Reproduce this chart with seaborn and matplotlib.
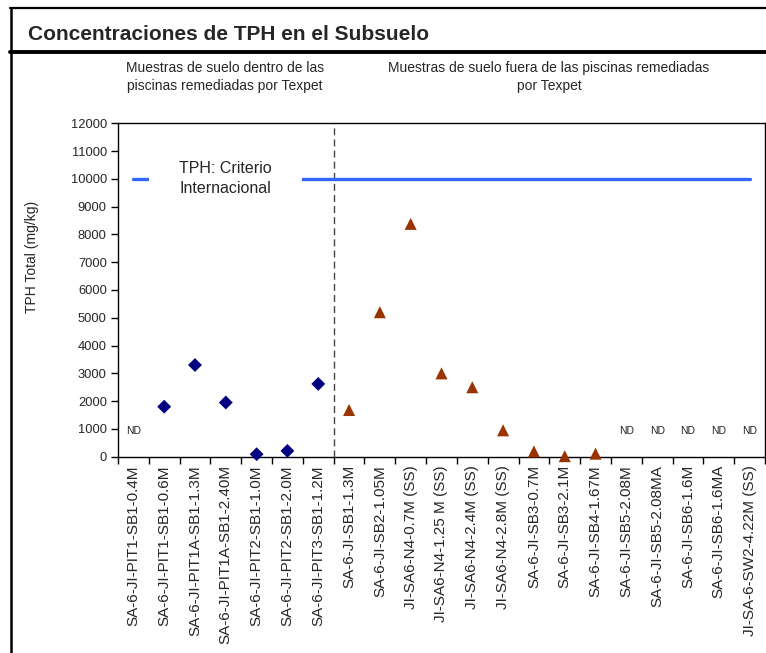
import numpy as np
import matplotlib
matplotlib.use("Agg")
import matplotlib.pyplot as plt
from matplotlib.lines import Line2D
import seaborn as sns

TITLE = "Concentraciones de TPH en el Subsuelo"
Y_LABEL = "TPH Total (mg/kg)"
NOTE_INSIDE = "Muestras de suelo dentro de las\npiscinas remediadas por Texpet"
NOTE_OUTSIDE = "Muestras de suelo fuera de las piscinas remediadas\npor Texpet"
CRITERION_LABEL = "TPH: Criterio\nInternacional"

inside_labels = [
    "SA-6-JI-PIT1-SB1-0.4M",
    "SA-6-JI-PIT1-SB1-0.6M",
    "SA-6-JI-PIT1A-SB1-1.3M",
    "SA-6-JI-PIT1A-SB1-2.40M",
    "SA-6-JI-PIT2-SB1-1.0M",
    "SA-6-JI-PIT2-SB1-2.0M",
    "SA-6-JI-PIT3-SB1-1.2M",
]
outside_labels = [
    "SA-6-JI-SB1-1.3M",
    "SA-6-JI-SB2-1.05M",
    "JI-SA6-N4-0.7M (SS)",
    "JI-SA6-N4-1.25 M (SS)",
    "JI-SA6-N4-2.4M (SS)",
    "JI-SA6-N4-2.8M (SS)",
    "SA-6-JI-SB3-0.7M",
    "SA-6-JI-SB3-2.1M",
    "SA-6-JI-SB4-1.67M",
    "SA-6-JI-SB5-2.08M",
    "SA-6-JI-SB5-2.08MA",
    "SA-6-JI-SB6-1.6M",
    "SA-6-JI-SB6-1.6MA",
    "JI-SA-6-SW2-4.22M (SS)",
]

# NaN = ND (no detectado)
inside_tph = [np.nan, 1800, 3300, 1950, 90, 210, 2620]
outside_tph = [1680, 5200, 8380, 3000, 2500, 950, 190, 20, 110,
               np.nan, np.nan, np.nan, np.nan, np.nan]
criterion_tph = 10000

y_ticks = list(range(0, 12001, 1000))

# ----------------------------------------------------------------------
labels = inside_labels + outside_labels
n_in = len(inside_labels)
x_in = np.arange(n_in)
x_out = np.arange(n_in, len(labels))
x_all = np.arange(len(labels))

sns.set_style("ticks")
plt.rcParams["font.family"] = ["Liberation Sans", "DejaVu Sans"]

fig = plt.figure(figsize=(7.66, 6.53), dpi=100)
ax = fig.add_axes([0.154, 0.3006, 0.8447, 0.5106])

sns.lineplot(x=x_all, y=[criterion_tph] * len(labels), ax=ax,
             color="#3366FF", linewidth=2.4, zorder=2)
sns.scatterplot(x=x_in, y=inside_tph, ax=ax, marker="D", s=50,
                color="#000080", edgecolor="none", zorder=3)
sns.scatterplot(x=x_out, y=outside_tph, ax=ax, marker="^", s=75,
                color="#993300", edgecolor="none", zorder=3)
# markers near zero sit over the axis line, as in the original
for coll in ax.collections:
    coll.set_clip_on(False)

# ND labels where nothing was detected
for x, v in zip(x_all, inside_tph + outside_tph):
    if np.isnan(v):
        ax.text(x, 930, "ND", ha="center", va="center", fontsize=7.5,
                color="#222222")

ax.text(3.0, criterion_tph, CRITERION_LABEL, ha="center", va="center",
        fontsize=11.5, linespacing=1.4, zorder=4,
        bbox=dict(boxstyle="square,pad=1.9", fc="white", ec="none"))

ax.axvline(n_in - 0.5, color="#444444", linewidth=1.0,
           linestyle=(0, (5, 3)), zorder=1)

ax.set_xlim(-0.5, len(labels) - 0.5)
ax.set_ylim(0, 12000)
ax.set_yticks(y_ticks)
ax.set_yticklabels([str(t) for t in y_ticks], fontsize=9.3)

# category ticks on the boundaries, labels centred in between
ax.set_xticks(np.arange(len(labels) + 1) - 0.5)
ax.set_xticklabels([])
ax.set_xticks(x_all, minor=True)
ax.set_xticklabels(labels, minor=True, rotation=90, fontsize=11,
                   va="top", ha="center")
ax.tick_params(axis="x", which="major", length=5, width=1, color="black")
ax.tick_params(axis="x", which="minor", length=0, pad=6)
ax.tick_params(axis="y", length=5, width=1, color="black", pad=3)

ax.set_ylabel(Y_LABEL, fontsize=10)
ax.yaxis.set_label_coords(-0.122, 0.6)
ax.set_xlabel("")
for side in ["left", "right", "top", "bottom"]:
    ax.spines[side].set_visible(True)
    ax.spines[side].set_color("black")
    ax.spines[side].set_linewidth(1.0)

fig.text(28 / 766, 1 - 35 / 653, TITLE, fontsize=15, fontweight="bold",
         ha="left", va="center")
fig.text(225 / 766, 1 - 77 / 653, NOTE_INSIDE, fontsize=10, ha="center",
         va="center", linespacing=1.4)
fig.text(549 / 766, 1 - 77 / 653, NOTE_OUTSIDE, fontsize=10, ha="center",
         va="center", linespacing=1.4)

# outer frame of the slide
fig.add_artist(Line2D([10 / 766, 1], [1 - 8 / 653, 1 - 8 / 653],
                      color="black", linewidth=1.6))
fig.add_artist(Line2D([10 / 766, 1], [1 - 52 / 653, 1 - 52 / 653],
                      color="black", linewidth=2.8))
fig.add_artist(Line2D([10.5 / 766, 10.5 / 766], [0, 1 - 8 / 653],
                      color="black", linewidth=1.8))

fig.savefig("out.png", dpi=100)
